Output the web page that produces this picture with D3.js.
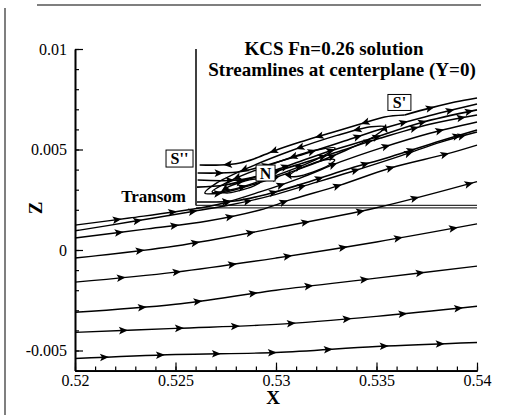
<!DOCTYPE html>
<html>
<head>
<meta charset="utf-8">
<script src="https://cdn.jsdelivr.net/npm/d3@7"></script>
<style>
  body { margin: 0; background: #fff; }
  svg { display: block; font-family: "Liberation Serif", "Times New Roman", Times, "DejaVu Serif", serif; }
</style>
</head>
<body>
<svg width="529" height="415"></svg>
<script>
// tick labels
var xTicks = [0.52, 0.525, 0.53, 0.535, 0.54];
var zTicks = [-0.005, 0, 0.005, 0.01];

// streamlines coming in from the left (X, Z)
var line1 = [[0.52,-0.0054],[0.525,-0.0052],[0.53,-0.0051],[0.535,-0.0048],[0.54,-0.0046]];
var line2 = [[0.52,-0.0041],[0.525,-0.0039],[0.53,-0.0037],[0.535,-0.0033],[0.54,-0.0028]];
var line3 = [[0.52,-0.0031],[0.525,-0.0027],[0.53,-0.0020],[0.535,-0.0014],[0.54,-0.0008]];
var line4 = [[0.52,-0.0016],[0.525,-0.0011],[0.53,-0.0004],[0.535,0.0004],[0.54,0.0013]];
var line5 = [[0.52,-0.0004],[0.525,0.0002],[0.53,0.0011],[0.535,0.0021],[0.54,0.0034]];
var line6 = [[0.52,0.0006],[0.5236,0.00105],[0.5266,0.00144],[0.5292,0.00199],[0.5307,0.00249],
             [0.5332,0.00323],[0.5357,0.00408],[0.5385,0.00478],[0.54,0.00522]];
var line7 = [[0.52,0.00095],[0.5227,0.00139],[0.5257,0.00189],[0.5277,0.00224],[0.5297,0.00269],
             [0.5317,0.00328],[0.5337,0.00388],[0.5362,0.00468],[0.5382,0.00537],[0.54,0.00587]];
var line8 = [[0.52,0.00124],[0.5227,0.00159],[0.5259,0.00204],[0.5274,0.00234],[0.5292,0.00289],
             [0.5312,0.00358],[0.5332,0.00438],[0.5352,0.00507],[0.5377,0.00582],[0.54,0.00637]];

// streamlines leaving the transom face
var wake1 = [[0.5261,0.00383],[0.5281,0.00388],[0.5294,0.00418],[0.5314,0.00478],[0.5334,0.00542],
             [0.5354,0.00607],[0.5374,0.00662],[0.54,0.00726]];
var wake2 = [[0.5261,0.00348],[0.5281,0.00348],[0.5295,0.00378],[0.5312,0.00428],[0.5332,0.00493],
             [0.5352,0.00557],[0.5377,0.00627],[0.54,0.00672]];
var wake3 = [[0.52607,0.00313],[0.52746,0.00323],[0.52896,0.00363],[0.5307,0.00423],[0.53269,0.00493],
             [0.53468,0.00552],[0.53716,0.00632],[0.54,0.00697]];
var wake4 = [[0.52607,0.00239],[0.52796,0.00244],[0.5296,0.00279],[0.53144,0.00333],[0.53343,0.00398],
             [0.53567,0.00463],[0.53816,0.00542],[0.54,0.00597]];

// dividing streamline S' -> S'' and the branch leaving S'
var dividing = [[0.5364,0.00672],[0.5354,0.00662],[0.5342,0.00627],[0.5327,0.00582],[0.5312,0.00537],
                [0.5299,0.00493],[0.5289,0.00453],[0.5282,0.00433],[0.5272,0.00423],[0.5262,0.00423]];
var sPrimeOut = [[0.5364,0.00672],[0.5377,0.00707],[0.5389,0.00736],[0.54,0.00756]];

// closed recirculation loops
var loopA = [[0.53543,0.00612],[0.53474,0.00613],[0.53304,0.0057],[0.53078,0.00495],[0.52855,0.00406],
             [0.52698,0.00329],[0.52646,0.00284],[0.52715,0.00282],[0.52885,0.00325],[0.53111,0.00401],
             [0.53334,0.0049],[0.53491,0.00567]];
var loopB = [[0.53294,0.00507],[0.53197,0.00496],[0.52978,0.00426],[0.52764,0.0034],[0.52682,0.00289],
             [0.52778,0.003],[0.52998,0.0037],[0.53211,0.00456]];
var loopC = [[0.5293,0.00348],[0.52898,0.00353],[0.52825,0.00337],[0.52756,0.0031],[0.52731,0.00289],
             [0.52764,0.00284],[0.52836,0.003],[0.52905,0.00326]];
var loopD = [[0.53292,0.00448],[0.53254,0.0045],[0.53173,0.00427],[0.53095,0.00393],[0.53067,0.00368],
             [0.53104,0.00366],[0.53186,0.00389],[0.53264,0.00423]];

var transomX = 0.52602, transomBottom = 0.00222, hullZ = [0.00222, 0.0021];

var inflowLines = [line1, line2, line3, line4, line5, line6, line7, line8];
var wakeLines = [wake1, wake2, wake3, wake4, dividing, sPrimeOut];
var loops = [loopA, loopB, loopC, loopD];

var svg = d3.select("svg");
var serif = "Liberation Serif, Times New Roman, Times, DejaVu Serif, serif";

var x = d3.scaleLinear().domain([0.52, 0.54]).range([75, 477]);
var y = d3.scaleLinear().domain([-0.006, 0.01]).range([370.6, 49]);

svg.append("rect").attr("width", 529).attr("height", 415).attr("fill", "#fff");

// scanned page frame
svg.append("line").attr("x1", 37).attr("x2", 481).attr("y1", 5).attr("y2", 5)
    .attr("stroke", "#555").attr("stroke-width", 1.5);
svg.append("line").attr("x1", 5).attr("x2", 5).attr("y1", 8).attr("y2", 415)
    .attr("stroke", "#555").attr("stroke-width", 1.5);

// axes: minor then major ticks, pointing inward
svg.append("g").attr("class", "axis")
    .attr("transform", "translate(" + x(0.52) + ",0)")
    .call(d3.axisLeft(y).tickValues(y.ticks(16)).tickSize(-4).tickSizeOuter(0).tickFormat(""));
svg.append("g").attr("class", "axis")
    .attr("transform", "translate(" + x(0.52) + ",0)")
    .call(d3.axisLeft(y).tickValues(zTicks).tickSize(-8).tickSizeOuter(0).tickPadding(8)
      .tickFormat(function(d) { return String(d); }));
svg.append("g").attr("class", "axis")
    .attr("transform", "translate(0," + y(-0.006) + ")")
    .call(d3.axisBottom(x).tickValues(x.ticks(20)).tickSize(-4).tickSizeOuter(0).tickFormat(""));
svg.append("g").attr("class", "axis")
    .attr("transform", "translate(0," + y(-0.006) + ")")
    .call(d3.axisBottom(x).tickValues(xTicks).tickSize(-8).tickSizeOuter(0).tickPadding(4)
      .tickFormat(function(d) { return String(d); }));

svg.selectAll(".axis").attr("font-family", serif);
svg.selectAll(".axis path").attr("stroke", "#000").attr("stroke-width", 1.6);
svg.selectAll(".axis line").attr("stroke", "#000").attr("stroke-width", 1.2);
svg.selectAll(".axis text").attr("font-size", 16).attr("fill", "#000");

// transom and hull line
svg.append("line")
    .attr("x1", x(transomX)).attr("x2", x(transomX))
    .attr("y1", y(0.01)).attr("y2", y(transomBottom))
    .attr("stroke", "#000").attr("stroke-width", 1.5);
hullZ.forEach(function(z) {
  svg.append("line")
      .attr("x1", x(transomX)).attr("x2", x(0.54))
      .attr("y1", y(z)).attr("y2", y(z))
      .attr("stroke", "#333").attr("stroke-width", 1.3);
});

var line = d3.line()
    .x(function(d) { return x(d[0]); })
    .y(function(d) { return y(d[1]); })
    .curve(d3.curveCatmullRom.alpha(0.5));
var loopLine = d3.line()
    .x(function(d) { return x(d[0]); })
    .y(function(d) { return y(d[1]); })
    .curve(d3.curveCatmullRomClosed.alpha(0.5));

var lines = svg.append("g").attr("fill", "none").attr("stroke", "#000");
var heads = svg.append("g").attr("fill", "#000");

function addArrows(node, start, gap) {
  var len = node.getTotalLength();
  for (var s = start; s < len - 2; s += gap) {
    var p = node.getPointAtLength(s),
        q = node.getPointAtLength(Math.min(s + 1, len)),
        r = node.getPointAtLength(Math.max(s - 1, 0));
    var a = Math.atan2(q.y - r.y, q.x - r.x) * 180 / Math.PI;
    heads.append("path")
        .attr("d", "M4,0L-5,-3.8L-3,0L-5,3.8Z")
        .attr("transform", "translate(" + p.x + "," + p.y + ")rotate(" + a + ")");
  }
}

inflowLines.forEach(function(d, i) {
  var p = lines.append("path").attr("d", line(d)).attr("stroke-width", 1.4);
  addArrows(p.node(), 30 + (i * 19) % 40, 56);
});
wakeLines.forEach(function(d, i) {
  var p = lines.append("path").attr("d", line(d)).attr("stroke-width", 1.6);
  addArrows(p.node(), 22 + (i * 11) % 25, 48);
});
loops.forEach(function(d, i) {
  var p = lines.append("path").attr("d", loopLine(d)).attr("stroke-width", 1.4);
  addArrows(p.node(), 15 + i * 9, 60);
});

// title
svg.append("text").attr("x", 334).attr("y", 55).attr("text-anchor", "middle")
    .attr("font-size", 19).attr("font-weight", "bold").text("KCS Fn=0.26 solution");
svg.append("text").attr("x", 342).attr("y", 76).attr("text-anchor", "middle")
    .attr("font-size", 19).attr("font-weight", "bold").text("Streamlines at centerplane (Y=0)");

// axis titles
svg.append("text").attr("x", 273).attr("y", 404).attr("text-anchor", "middle")
    .attr("font-size", 19).attr("font-weight", "bold").text("X");
svg.append("text").attr("transform", "translate(42,208)rotate(-90)").attr("text-anchor", "middle")
    .attr("font-size", 19).attr("font-weight", "bold").text("Z");

svg.append("text").attr("x", 186).attr("y", 202).attr("text-anchor", "end")
    .attr("font-size", 17).attr("font-weight", "bold").text("Transom");

// boxed point labels
function boxLabel(label, px, pz, w, h) {
  var cx = x(px), cy = y(pz);
  svg.append("rect").attr("x", cx - w / 2).attr("y", cy - h / 2).attr("width", w).attr("height", h)
      .attr("fill", "#fff").attr("stroke", "#000").attr("stroke-width", 1);
  svg.append("text").attr("x", cx).attr("y", cy + 5.5).attr("text-anchor", "middle")
      .attr("font-size", 16).attr("font-weight", "bold").text(label);
}
boxLabel("S''", 0.5252, 0.00455, 27, 17);
boxLabel("N", 0.52948, 0.00383, 19, 16);
boxLabel("S'", 0.53614, 0.00734, 23, 16);
</script>
</body>
</html>
